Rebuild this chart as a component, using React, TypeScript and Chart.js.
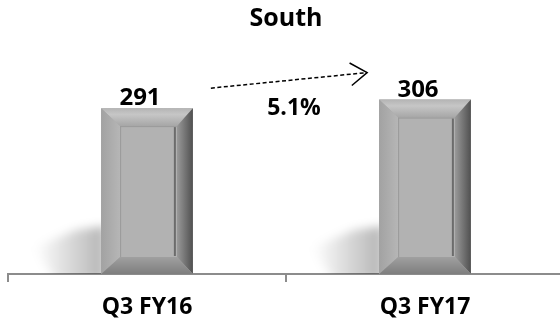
import React, { useEffect, useRef } from "react";
import { Chart, registerables } from "chart.js";

Chart.register(...registerables);

const categories: string[] = ["Q3 FY16", "Q3 FY17"];
const revenue: number[] = [291, 306];
const growthLabel = "5.1%";
const chartTitle = "South";

const FONT = "'Open Sans', Lato, sans-serif";

const shadowPlugin = {
  id: "barShadow",
  beforeDatasetsDraw(chart: any) {
    const { ctx, chartArea } = chart;
    const meta = chart.getDatasetMeta(0);
    ctx.save();
    ctx.beginPath();
    ctx.rect(chartArea.left - 10, chartArea.top, chartArea.right - chartArea.left + 20, chartArea.bottom - chartArea.top);
    ctx.clip();
    meta.data.forEach((bar: any) => {
      const L = bar.x - bar.width / 2;
      const B = bar.base;
      ctx.save();
      ctx.filter = "blur(5px)";
      const g = ctx.createLinearGradient(L, 0, L - 66, 0);
      g.addColorStop(0, "rgba(0,0,0,0.28)");
      g.addColorStop(0.5, "rgba(0,0,0,0.14)");
      g.addColorStop(1, "rgba(0,0,0,0)");
      ctx.fillStyle = g;
      ctx.beginPath();
      ctx.moveTo(L + 4, B - 48);
      ctx.lineTo(L - 25, B - 44);
      ctx.lineTo(L - 68, B - 26);
      ctx.lineTo(L - 45, B + 6);
      ctx.lineTo(L + 4, B + 6);
      ctx.closePath();
      ctx.fill();
      ctx.restore();
    });
    ctx.restore();
  },
};

const bevelPlugin = {
  id: "bevel",
  afterDatasetsDraw(chart: any) {
    const { ctx } = chart;
    const meta = chart.getDatasetMeta(0);
    meta.data.forEach((bar: any, i: number) => {
      const L = bar.x - bar.width / 2;
      const R = bar.x + bar.width / 2;
      const T = bar.y;
      const B = bar.base;
      const bl = 19, br = 16, bt = 18, bb = 17;
      ctx.save();
      let g = ctx.createLinearGradient(0, T, 0, T + bt);
      g.addColorStop(0, "#b4b4b4");
      g.addColorStop(0.35, "#c6c6c6");
      g.addColorStop(1, "#a6a6a6");
      ctx.fillStyle = g;
      ctx.beginPath();
      ctx.moveTo(L, T); ctx.lineTo(R, T); ctx.lineTo(R - br, T + bt); ctx.lineTo(L + bl, T + bt); ctx.closePath();
      ctx.fill();
      g = ctx.createLinearGradient(L, 0, L + bl, 0);
      g.addColorStop(0, "#a2a2a2");
      g.addColorStop(1, "#b6b6b6");
      ctx.fillStyle = g;
      ctx.beginPath();
      ctx.moveTo(L, T); ctx.lineTo(L + bl, T + bt); ctx.lineTo(L + bl, B - bb); ctx.lineTo(L, B); ctx.closePath();
      ctx.fill();
      g = ctx.createLinearGradient(R - br, 0, R, 0);
      g.addColorStop(0, "#9a9a9a");
      g.addColorStop(1, "#505050");
      ctx.fillStyle = g;
      ctx.beginPath();
      ctx.moveTo(R, T); ctx.lineTo(R, B); ctx.lineTo(R - br, B - bb); ctx.lineTo(R - br, T + bt); ctx.closePath();
      ctx.fill();
      g = ctx.createLinearGradient(0, B - bb, 0, B);
      g.addColorStop(0, "#a0a0a0");
      g.addColorStop(1, "#7e7e7e");
      ctx.fillStyle = g;
      ctx.beginPath();
      ctx.moveTo(L, B); ctx.lineTo(R, B); ctx.lineTo(R - br, B - bb); ctx.lineTo(L + bl, B - bb); ctx.closePath();
      ctx.fill();
      ctx.fillStyle = "#b2b2b2";
      ctx.fillRect(L + bl, T + bt, R - L - bl - br, B - T - bt - bb);
      ctx.fillStyle = "#9a9a9a";
      ctx.fillRect(L + bl, T + bt, 1, B - T - bt - bb);
      ctx.fillRect(L + bl, T + bt, R - L - bl - br, 1);
      ctx.fillStyle = "#6c6c6c";
      ctx.fillRect(R - br - 3, T + bt + 1, 2, B - T - bt - bb - 2);
      ctx.restore();

      ctx.save();
      ctx.font = `bold 24px ${FONT}`;
      ctx.fillStyle = "#000";
      ctx.textAlign = "center";
      ctx.textBaseline = "alphabetic";
      ctx.fillText(String(revenue[i]), bar.x - 7, T - 3);
      ctx.restore();
    });

    const b0 = meta.data[0];
    const b1 = meta.data[1];
    const x0 = b0.x + b0.width / 2 + 18;
    const y0 = b0.y - 20;
    const x1 = b1.x - b1.width / 2 - 12;
    const y1 = b1.y - 27;
    ctx.save();
    ctx.strokeStyle = "#000";
    ctx.lineWidth = 1.5;
    ctx.setLineDash([4, 2.5]);
    ctx.beginPath();
    ctx.moveTo(x0, y0);
    ctx.lineTo(x1, y1);
    ctx.stroke();
    ctx.setLineDash([]);
    const ang = Math.atan2(y1 - y0, x1 - x0);
    const len = 20, spread = 0.6;
    ctx.beginPath();
    ctx.moveTo(x1 - len * Math.cos(ang - spread), y1 - len * Math.sin(ang - spread));
    ctx.lineTo(x1, y1);
    ctx.lineTo(x1 - len * Math.cos(ang + spread), y1 - len * Math.sin(ang + spread));
    ctx.stroke();
    ctx.font = `bold 23px ${FONT}`;
    ctx.fillStyle = "#000";
    ctx.textAlign = "center";
    ctx.textBaseline = "middle";
    ctx.fillText(growthLabel, (x0 + x1) / 2 + 5, (y0 + y1) / 2 + 28);
    ctx.restore();
  },
};

export default function App() {
  const ref = useRef<HTMLCanvasElement | null>(null);
  useEffect(() => {
    if (!ref.current) return;
    const chart = new Chart(ref.current, {
      type: "bar",
      data: {
        labels: categories,
        datasets: [
          {
            data: revenue,
            backgroundColor: "#a8a8a8",
            borderWidth: 0,
            categoryPercentage: 1,
            barPercentage: 0.33,
          },
        ],
      },
      options: {
        animation: false,
        responsive: true,
        maintainAspectRatio: false,
        layout: { padding: { left: 8, right: 6, top: 0, bottom: 0 } },
        plugins: {
          legend: { display: false },
          tooltip: { enabled: false },
          title: {
            display: true,
            text: chartTitle,
            color: "#000",
            font: { family: FONT, size: 25, weight: "bold" },
            padding: { top: 4, bottom: 40.5 },
          },
        },
        scales: {
          x: {
            grid: { display: true, drawOnChartArea: false, drawTicks: true, tickLength: 8, color: "#8c8c8c", lineWidth: 2 },
            border: { display: true, color: "#8c8c8c", width: 2 },
            ticks: { color: "#000", font: { family: FONT, size: 23, weight: "bold" }, padding: 12 },
            afterFit: (s: any) => { s.height = 46; },
          },
          y: { display: false, min: 0, max: 350 },
        },
      },
      plugins: [shadowPlugin, bevelPlugin],
    });
    return () => chart.destroy();
  }, []);
  return (
    <div style={{ position: "fixed", left: 0, top: 0, width: 570, height: 320, background: "#fff" }}>
      <canvas ref={ref} />
    </div>
  );
}
